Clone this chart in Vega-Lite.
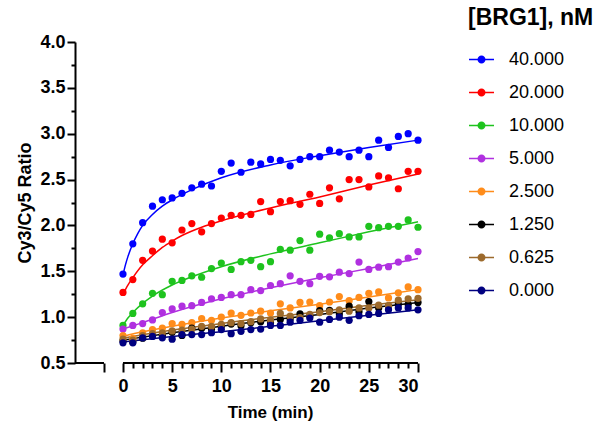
{
  "$schema": "https://vega.github.io/schema/vega-lite/v6.json",
  "autosize": {"type": "none"},
  "padding": {"left": 75, "top": 42, "right": 181, "bottom": 60},
  "width": 343,
  "height": 321,
  "config": {"font": "Liberation Sans", "view": {"stroke": null},
    "legend": {"orient": "none", "legendX": 393, "legendY": -35, "titleFontSize": 23, "titleFontWeight": "bold", "titleColor": "black", "titlePadding": 16, "labelFontSize": 18, "labelColor": "black", "labelOffset": 14, "symbolType": "M-1,0L1,0M-0.26,0A0.26,0.26 0 1,0 0.26,0A0.26,0.26 0 1,0 -0.26,0", "symbolSize": 625, "symbolStrokeWidth": 1.5, "symbolOpacity": 1, "rowPadding": 10, "padding": 0}},
  "datasets": {
    "xaxis": [{"a": -4.88, "b": -1.93}, {"a": 0, "b": 30}],
    "pts": [
      {"c":"40.000","t":0,"v":1.47},{"c":"40.000","t":1,"v":1.80},{"c":"40.000","t":2,"v":2.03},{"c":"40.000","t":3,"v":2.21},{"c":"40.000","t":4,"v":2.28},{"c":"40.000","t":5,"v":2.30},{"c":"40.000","t":6,"v":2.35},{"c":"40.000","t":7,"v":2.41},{"c":"40.000","t":8,"v":2.45},{"c":"40.000","t":9,"v":2.43},{"c":"40.000","t":10,"v":2.59},{"c":"40.000","t":11,"v":2.68},{"c":"40.000","t":12,"v":2.58},{"c":"40.000","t":13,"v":2.69},{"c":"40.000","t":14,"v":2.67},{"c":"40.000","t":15,"v":2.72},{"c":"40.000","t":16,"v":2.71},{"c":"40.000","t":17,"v":2.65},{"c":"40.000","t":18,"v":2.72},{"c":"40.000","t":19,"v":2.75},{"c":"40.000","t":20,"v":2.75},{"c":"40.000","t":21,"v":2.82},{"c":"40.000","t":22,"v":2.80},{"c":"40.000","t":23,"v":2.75},{"c":"40.000","t":24,"v":2.82},{"c":"40.000","t":25,"v":2.75},{"c":"40.000","t":26,"v":2.93},{"c":"40.000","t":27,"v":2.85},{"c":"40.000","t":28,"v":2.97},{"c":"40.000","t":29,"v":3.00},{"c":"40.000","t":30,"v":2.93},
      {"c":"20.000","t":0,"v":1.27},{"c":"20.000","t":1,"v":1.41},{"c":"20.000","t":2,"v":1.62},{"c":"20.000","t":3,"v":1.72},{"c":"20.000","t":4,"v":1.85},{"c":"20.000","t":5,"v":1.81},{"c":"20.000","t":6,"v":1.95},{"c":"20.000","t":7,"v":2.02},{"c":"20.000","t":8,"v":1.93},{"c":"20.000","t":9,"v":2.02},{"c":"20.000","t":10,"v":2.08},{"c":"20.000","t":11,"v":2.11},{"c":"20.000","t":12,"v":2.11},{"c":"20.000","t":13,"v":2.12},{"c":"20.000","t":14,"v":2.26},{"c":"20.000","t":15,"v":2.15},{"c":"20.000","t":16,"v":2.26},{"c":"20.000","t":17,"v":2.27},{"c":"20.000","t":18,"v":2.23},{"c":"20.000","t":19,"v":2.34},{"c":"20.000","t":20,"v":2.24},{"c":"20.000","t":21,"v":2.41},{"c":"20.000","t":22,"v":2.29},{"c":"20.000","t":23,"v":2.50},{"c":"20.000","t":24,"v":2.50},{"c":"20.000","t":25,"v":2.42},{"c":"20.000","t":26,"v":2.54},{"c":"20.000","t":27,"v":2.52},{"c":"20.000","t":28,"v":2.40},{"c":"20.000","t":29,"v":2.59},{"c":"20.000","t":30,"v":2.59},
      {"c":"10.000","t":0,"v":0.91},{"c":"10.000","t":1,"v":1.04},{"c":"10.000","t":2,"v":1.145},{"c":"10.000","t":3,"v":1.26},{"c":"10.000","t":4,"v":1.245},{"c":"10.000","t":5,"v":1.39},{"c":"10.000","t":6,"v":1.40},{"c":"10.000","t":7,"v":1.45},{"c":"10.000","t":8,"v":1.435},{"c":"10.000","t":9,"v":1.53},{"c":"10.000","t":10,"v":1.59},{"c":"10.000","t":11,"v":1.52},{"c":"10.000","t":12,"v":1.605},{"c":"10.000","t":13,"v":1.62},{"c":"10.000","t":14,"v":1.55},{"c":"10.000","t":15,"v":1.605},{"c":"10.000","t":16,"v":1.74},{"c":"10.000","t":17,"v":1.73},{"c":"10.000","t":18,"v":1.835},{"c":"10.000","t":19,"v":1.73},{"c":"10.000","t":20,"v":1.905},{"c":"10.000","t":21,"v":1.865},{"c":"10.000","t":22,"v":1.91},{"c":"10.000","t":23,"v":1.875},{"c":"10.000","t":24,"v":1.875},{"c":"10.000","t":25,"v":1.99},{"c":"10.000","t":26,"v":1.975},{"c":"10.000","t":27,"v":1.99},{"c":"10.000","t":28,"v":1.99},{"c":"10.000","t":29,"v":2.06},{"c":"10.000","t":30,"v":1.98},
      {"c":"5.000","t":0,"v":0.87},{"c":"5.000","t":1,"v":0.91},{"c":"5.000","t":2,"v":0.93},{"c":"5.000","t":3,"v":0.97},{"c":"5.000","t":4,"v":1.05},{"c":"5.000","t":5,"v":1.09},{"c":"5.000","t":6,"v":1.12},{"c":"5.000","t":7,"v":1.125},{"c":"5.000","t":8,"v":1.16},{"c":"5.000","t":9,"v":1.20},{"c":"5.000","t":10,"v":1.215},{"c":"5.000","t":11,"v":1.245},{"c":"5.000","t":12,"v":1.245},{"c":"5.000","t":13,"v":1.30},{"c":"5.000","t":14,"v":1.29},{"c":"5.000","t":15,"v":1.345},{"c":"5.000","t":16,"v":1.365},{"c":"5.000","t":17,"v":1.45},{"c":"5.000","t":18,"v":1.39},{"c":"5.000","t":19,"v":1.365},{"c":"5.000","t":20,"v":1.445},{"c":"5.000","t":21,"v":1.44},{"c":"5.000","t":22,"v":1.49},{"c":"5.000","t":23,"v":1.475},{"c":"5.000","t":24,"v":1.60},{"c":"5.000","t":25,"v":1.52},{"c":"5.000","t":26,"v":1.545},{"c":"5.000","t":27,"v":1.55},{"c":"5.000","t":28,"v":1.60},{"c":"5.000","t":29,"v":1.645},{"c":"5.000","t":30,"v":1.715},
      {"c":"2.500","t":0,"v":0.80},{"c":"2.500","t":1,"v":0.77},{"c":"2.500","t":2,"v":0.83},{"c":"2.500","t":3,"v":0.865},{"c":"2.500","t":4,"v":0.88},{"c":"2.500","t":5,"v":0.93},{"c":"2.500","t":6,"v":0.92},{"c":"2.500","t":7,"v":0.94},{"c":"2.500","t":8,"v":0.985},{"c":"2.500","t":9,"v":0.965},{"c":"2.500","t":10,"v":1.00},{"c":"2.500","t":11,"v":1.045},{"c":"2.500","t":12,"v":1.02},{"c":"2.500","t":13,"v":1.045},{"c":"2.500","t":14,"v":1.065},{"c":"2.500","t":15,"v":1.045},{"c":"2.500","t":16,"v":1.145},{"c":"2.500","t":17,"v":1.10},{"c":"2.500","t":18,"v":1.16},{"c":"2.500","t":19,"v":1.165},{"c":"2.500","t":20,"v":1.125},{"c":"2.500","t":21,"v":1.165},{"c":"2.500","t":22,"v":1.225},{"c":"2.500","t":23,"v":1.18},{"c":"2.500","t":24,"v":1.215},{"c":"2.500","t":25,"v":1.26},{"c":"2.500","t":26,"v":1.275},{"c":"2.500","t":27,"v":1.21},{"c":"2.500","t":28,"v":1.265},{"c":"2.500","t":29,"v":1.33},{"c":"2.500","t":30,"v":1.30},
      {"c":"1.250","t":0,"v":0.74},{"c":"1.250","t":1,"v":0.73},{"c":"1.250","t":2,"v":0.77},{"c":"1.250","t":3,"v":0.80},{"c":"1.250","t":4,"v":0.80},{"c":"1.250","t":5,"v":0.835},{"c":"1.250","t":6,"v":0.80},{"c":"1.250","t":7,"v":0.88},{"c":"1.250","t":8,"v":0.88},{"c":"1.250","t":9,"v":0.87},{"c":"1.250","t":10,"v":0.90},{"c":"1.250","t":11,"v":0.925},{"c":"1.250","t":12,"v":0.905},{"c":"1.250","t":13,"v":0.94},{"c":"1.250","t":14,"v":0.95},{"c":"1.250","t":15,"v":0.94},{"c":"1.250","t":16,"v":0.975},{"c":"1.250","t":17,"v":0.98},{"c":"1.250","t":18,"v":1.035},{"c":"1.250","t":19,"v":1.01},{"c":"1.250","t":20,"v":1.07},{"c":"1.250","t":21,"v":1.075},{"c":"1.250","t":22,"v":1.035},{"c":"1.250","t":23,"v":1.12},{"c":"1.250","t":24,"v":1.06},{"c":"1.250","t":25,"v":1.17},{"c":"1.250","t":26,"v":1.10},{"c":"1.250","t":27,"v":1.12},{"c":"1.250","t":28,"v":1.14},{"c":"1.250","t":29,"v":1.14},{"c":"1.250","t":30,"v":1.16},
      {"c":"0.625","t":0,"v":0.76},{"c":"0.625","t":1,"v":0.75},{"c":"0.625","t":2,"v":0.80},{"c":"0.625","t":3,"v":0.82},{"c":"0.625","t":4,"v":0.83},{"c":"0.625","t":5,"v":0.85},{"c":"0.625","t":6,"v":0.86},{"c":"0.625","t":7,"v":0.87},{"c":"0.625","t":8,"v":0.90},{"c":"0.625","t":9,"v":0.90},{"c":"0.625","t":10,"v":0.92},{"c":"0.625","t":11,"v":0.94},{"c":"0.625","t":12,"v":0.93},{"c":"0.625","t":13,"v":0.95},{"c":"0.625","t":14,"v":0.98},{"c":"0.625","t":15,"v":0.97},{"c":"0.625","t":16,"v":1.04},{"c":"0.625","t":17,"v":1.01},{"c":"0.625","t":18,"v":0.995},{"c":"0.625","t":19,"v":1.03},{"c":"0.625","t":20,"v":1.05},{"c":"0.625","t":21,"v":1.06},{"c":"0.625","t":22,"v":1.08},{"c":"0.625","t":23,"v":1.065},{"c":"0.625","t":24,"v":1.10},{"c":"0.625","t":25,"v":1.10},{"c":"0.625","t":26,"v":1.13},{"c":"0.625","t":27,"v":1.125},{"c":"0.625","t":28,"v":1.185},{"c":"0.625","t":29,"v":1.20},{"c":"0.625","t":30,"v":1.205},
      {"c":"0.000","t":0,"v":0.72},{"c":"0.000","t":1,"v":0.72},{"c":"0.000","t":2,"v":0.775},{"c":"0.000","t":3,"v":0.79},{"c":"0.000","t":4,"v":0.775},{"c":"0.000","t":5,"v":0.76},{"c":"0.000","t":6,"v":0.81},{"c":"0.000","t":7,"v":0.81},{"c":"0.000","t":8,"v":0.81},{"c":"0.000","t":9,"v":0.83},{"c":"0.000","t":10,"v":0.865},{"c":"0.000","t":11,"v":0.82},{"c":"0.000","t":12,"v":0.845},{"c":"0.000","t":13,"v":0.865},{"c":"0.000","t":14,"v":0.87},{"c":"0.000","t":15,"v":0.91},{"c":"0.000","t":16,"v":0.91},{"c":"0.000","t":17,"v":0.945},{"c":"0.000","t":18,"v":0.965},{"c":"0.000","t":19,"v":0.99},{"c":"0.000","t":20,"v":0.945},{"c":"0.000","t":21,"v":0.975},{"c":"0.000","t":22,"v":1.00},{"c":"0.000","t":23,"v":0.965},{"c":"0.000","t":24,"v":1.015},{"c":"0.000","t":25,"v":1.03},{"c":"0.000","t":26,"v":1.04},{"c":"0.000","t":27,"v":1.08},{"c":"0.000","t":28,"v":1.10},{"c":"0.000","t":29,"v":1.10},{"c":"0.000","t":30,"v":1.08}
    ],
    "fit": [
      {"c":"40.000","t":0,"v":1.46},{"c":"40.000","t":0.25,"v":1.57},{"c":"40.000","t":0.5,"v":1.66},{"c":"40.000","t":1,"v":1.80},{"c":"40.000","t":1.5,"v":1.91},{"c":"40.000","t":2,"v":2.00},{"c":"40.000","t":3,"v":2.12},{"c":"40.000","t":4,"v":2.21},{"c":"40.000","t":5,"v":2.28},{"c":"40.000","t":7,"v":2.39},{"c":"40.000","t":10,"v":2.52},{"c":"40.000","t":15,"v":2.66},{"c":"40.000","t":20,"v":2.76},{"c":"40.000","t":25,"v":2.85},{"c":"40.000","t":30,"v":2.93},
      {"c":"20.000","t":0,"v":1.25},{"c":"20.000","t":0.5,"v":1.35},{"c":"20.000","t":1,"v":1.43},{"c":"20.000","t":2,"v":1.57},{"c":"20.000","t":3,"v":1.67},{"c":"20.000","t":4,"v":1.76},{"c":"20.000","t":5,"v":1.83},{"c":"20.000","t":6,"v":1.89},{"c":"20.000","t":8,"v":1.98},{"c":"20.000","t":10,"v":2.05},{"c":"20.000","t":15,"v":2.19},{"c":"20.000","t":20,"v":2.31},{"c":"20.000","t":25,"v":2.44},{"c":"20.000","t":30,"v":2.56},
      {"c":"10.000","t":0,"v":0.91},{"c":"10.000","t":0.5,"v":0.99},{"c":"10.000","t":1,"v":1.05},{"c":"10.000","t":2,"v":1.15},{"c":"10.000","t":3,"v":1.23},{"c":"10.000","t":5,"v":1.35},{"c":"10.000","t":7,"v":1.44},{"c":"10.000","t":10,"v":1.55},{"c":"10.000","t":15,"v":1.69},{"c":"10.000","t":20,"v":1.81},{"c":"10.000","t":25,"v":1.93},{"c":"10.000","t":30,"v":2.04},
      {"c":"5.000","t":0,"v":0.87},{"c":"5.000","t":2,"v":0.94},{"c":"5.000","t":5,"v":1.05},{"c":"5.000","t":10,"v":1.20},{"c":"5.000","t":15,"v":1.32},{"c":"5.000","t":20,"v":1.43},{"c":"5.000","t":25,"v":1.53},{"c":"5.000","t":30,"v":1.64},
      {"c":"2.500","t":0,"v":0.79},{"c":"2.500","t":2,"v":0.84},{"c":"2.500","t":5,"v":0.90},{"c":"2.500","t":10,"v":0.99},{"c":"2.500","t":15,"v":1.07},{"c":"2.500","t":20,"v":1.14},{"c":"2.500","t":25,"v":1.22},{"c":"2.500","t":30,"v":1.30},
      {"c":"1.250","t":0,"v":0.75},{"c":"1.250","t":5,"v":0.83},{"c":"1.250","t":10,"v":0.90},{"c":"1.250","t":15,"v":0.97},{"c":"1.250","t":20,"v":1.03},{"c":"1.250","t":25,"v":1.10},{"c":"1.250","t":30,"v":1.16},
      {"c":"0.625","t":0,"v":0.77},{"c":"0.625","t":5,"v":0.86},{"c":"0.625","t":10,"v":0.93},{"c":"0.625","t":15,"v":1.00},{"c":"0.625","t":20,"v":1.06},{"c":"0.625","t":25,"v":1.13},{"c":"0.625","t":30,"v":1.19},
      {"c":"0.000","t":0,"v":0.73},{"c":"0.000","t":5,"v":0.79},{"c":"0.000","t":10,"v":0.84},{"c":"0.000","t":15,"v":0.90},{"c":"0.000","t":20,"v":0.96},{"c":"0.000","t":25,"v":1.02},{"c":"0.000","t":30,"v":1.08}
    ]
  },
  "resolve": {"scale": {"x": "shared", "y": "shared", "color": "shared"}, "axis": {"x": "independent", "y": "independent"}},
  "layer": [
    {
      "data": {"name": "xaxis"},
      "mark": {"type": "rule", "color": "black", "strokeWidth": 2},
      "encoding": {
        "x": {"field": "a", "type": "quantitative",
          "scale": {"domain": [-4.88, 30], "nice": false, "zero": false},
          "axis": {"orient": "bottom", "values": [-1.93, 0, 5, 10, 15, 20, 25, 30], "labelExpr": "datum.value < 0 ? '' : format(datum.value, 'd')", "domain": false, "grid": false, "tickSize": 9, "tickWidth": 2, "tickColor": "black", "labelFontSize": 18, "labelFontWeight": "bold", "labelColor": "black", "labelPadding": 5, "title": "Time (min)", "titleX": 195, "titleAlign": "center", "titleFontSize": 17, "titleFontWeight": "bold", "titleColor": "black", "titlePadding": 9}},
        "x2": {"field": "b"},
        "y": {"datum": 0.5, "type": "quantitative",
          "scale": {"domain": [0.5, 4.0], "nice": false, "zero": false},
          "axis": {"orient": "left", "values": [0.5, 1, 1.5, 2, 2.5, 3, 3.5, 4], "format": ".1f", "domain": true, "domainColor": "black", "domainWidth": 2, "grid": false, "tickSize": 8, "tickWidth": 2, "tickColor": "black", "labelFontSize": 18, "labelFontWeight": "bold", "labelColor": "black", "labelPadding": 2, "title": "Cy3/Cy5 Ratio", "titleFontSize": 18, "titleFontWeight": "bold", "titleColor": "black", "titlePadding": 5}}
      }
    },
    {
      "data": {"name": "fit"},
      "mark": {"type": "line", "strokeWidth": 1.5, "interpolate": "monotone"},
      "encoding": {
        "x": {"field": "t", "type": "quantitative",
          "axis": {"orient": "bottom", "values": [1,2,3,4,6,7,8,9,11,12,13,14,16,17,18,19,21,22,23,24,26,27,28,29], "labels": false, "domain": false, "grid": false, "tickSize": 5, "tickWidth": 2, "tickColor": "black", "title": null}},
        "y": {"field": "v", "type": "quantitative",
          "axis": {"orient": "left", "values": [0.75, 1.25, 1.75, 2.25, 2.75, 3.25, 3.75], "labels": false, "domain": false, "grid": false, "tickSize": 4, "tickWidth": 2, "tickColor": "black", "title": null}},
        "color": {"field": "c", "type": "nominal", "title": "[BRG1], nM",
          "scale": {"domain": ["40.000", "20.000", "10.000", "5.000", "2.500", "1.250", "0.625", "0.000"], "range": ["#0000ff", "#ff0000", "#1ec31e", "#b030e0", "#ff8c1a", "#000000", "#9c6a2c", "#000080"]},
          "legend": {"encode": {"symbols": {"update": {"fill": {"scale": "color", "field": "value"}, "stroke": {"scale": "color", "field": "value"}}}}}},
        "detail": {"field": "c"}
      }
    },
    {
      "data": {"name": "pts"},
      "mark": {"type": "circle", "size": 52, "opacity": 1},
      "encoding": {
        "x": {"field": "t", "type": "quantitative", "axis": null},
        "y": {"field": "v", "type": "quantitative", "axis": null},
        "color": {"field": "c", "type": "nominal", "title": "[BRG1], nM",
          "legend": {"encode": {"symbols": {"update": {"fill": {"scale": "color", "field": "value"}, "stroke": {"scale": "color", "field": "value"}}}}}}
      }
    }
  ]
}
